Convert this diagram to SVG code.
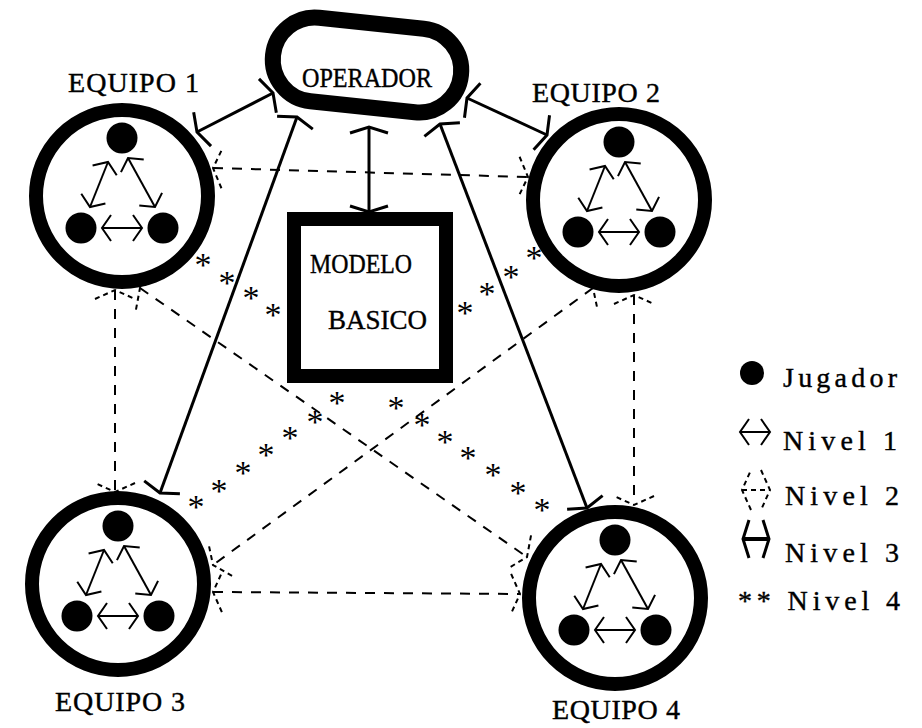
<svg xmlns="http://www.w3.org/2000/svg" xmlns:xlink="http://www.w3.org/1999/xlink" width="922" height="728" viewBox="0 0 922 728">
<style>
.t{font-family:"Liberation Serif","Times New Roman",serif;font-size:28px;fill:#000;stroke:#000;stroke-width:0.4}
.ast{font-family:"Liberation Serif","Times New Roman",serif;font-size:34px;fill:#000;text-anchor:middle}
.ring{fill:#fff;stroke:#000;stroke-width:14}
.dot{fill:#000}
.n1{fill:none;stroke:#000;stroke-width:2;marker-start:url(#h1);marker-end:url(#h1)}
.n2{fill:none;stroke:#000;stroke-width:2;stroke-dasharray:10 9;marker-start:url(#h2);marker-end:url(#h2)}
.n3{fill:none;stroke:#000;stroke-width:3;marker-start:url(#h3);marker-end:url(#h3)}
</style>
<defs>
<marker id="h1" viewBox="-30 -30 60 60" markerWidth="60" markerHeight="60" refX="0" refY="0" markerUnits="userSpaceOnUse" orient="auto-start-reverse" overflow="visible">
<path d="M-9,-13 L0,0 L-9,13" fill="none" stroke="#000" stroke-width="2"/>
</marker>
<marker id="h2" viewBox="-30 -30 60 60" markerWidth="60" markerHeight="60" refX="0" refY="0" markerUnits="userSpaceOnUse" orient="auto-start-reverse" overflow="visible">
<path d="M-9,-20 L0,0 L-9,20" fill="none" stroke="#000" stroke-width="2" stroke-dasharray="5 4"/>
</marker>
<marker id="h3" viewBox="-30 -30 60 60" markerWidth="60" markerHeight="60" refX="0" refY="0" markerUnits="userSpaceOnUse" orient="auto-start-reverse" overflow="visible">
<path d="M-6,-19 L0,0 L-6,19" fill="none" stroke="#000" stroke-width="3"/>
</marker>
<g id="inner">
<circle class="dot" cx="0" cy="-58" r="15.5"/>
<circle class="dot" cx="-41" cy="32" r="15.5"/>
<circle class="dot" cx="41" cy="32" r="15.5"/>
<line class="n1" x1="-32" y1="11" x2="-14" y2="-34"/>
<line class="n1" x1="6" y1="-38" x2="33" y2="11"/>
<line class="n1" x1="-20" y1="32" x2="20" y2="32"/>
</g>
</defs>
<rect width="922" height="728" fill="#fff"/>

<g id="connectors">
<line class="n3" x1="273" y1="93" x2="197" y2="132"/>
<line class="n3" x1="297" y1="117" x2="160" y2="493"/>
<line class="n3" x1="369" y1="127" x2="369" y2="212"/>
<line class="n3" x1="440" y1="124" x2="587" y2="508"/>
<line class="n3" x1="467" y1="98" x2="547" y2="135"/>
<line class="n2" x1="213" y1="168" x2="528" y2="177"/>
<line class="n2" x1="115" y1="290" x2="115" y2="492"/>
<line class="n2" x1="140" y1="288" x2="527" y2="557"/>
<line class="n2" x1="593" y1="288" x2="213" y2="565"/>
<line class="n2" x1="634" y1="295" x2="634" y2="505"/>
<line class="n2" x1="213" y1="592" x2="520" y2="594"/>
<g id="nivel4">
<text class="ast" x="203" y="276">*</text>
<text class="ast" x="227" y="294">*</text>
<text class="ast" x="251" y="309">*</text>
<text class="ast" x="273" y="326">*</text>
<text class="ast" x="465" y="324">*</text>
<text class="ast" x="487" y="305">*</text>
<text class="ast" x="511" y="288">*</text>
<text class="ast" x="534" y="269">*</text>
<text class="ast" x="337" y="414">*</text>
<text class="ast" x="315" y="433">*</text>
<text class="ast" x="290" y="449">*</text>
<text class="ast" x="266" y="466">*</text>
<text class="ast" x="243" y="484">*</text>
<text class="ast" x="219" y="502">*</text>
<text class="ast" x="196" y="518">*</text>
<text class="ast" x="396" y="419">*</text>
<text class="ast" x="422" y="436">*</text>
<text class="ast" x="445" y="453">*</text>
<text class="ast" x="468" y="469">*</text>
<text class="ast" x="493" y="486">*</text>
<text class="ast" x="518" y="504">*</text>
<text class="ast" x="542" y="521">*</text>
</g>
</g>

<g id="operador">
<rect x="272.5" y="23" width="189" height="84" rx="42" ry="42" fill="#fff" stroke="#000" stroke-width="16" transform="rotate(6 367 65)"/>
<text class="t" x="302" y="87" textLength="130" lengthAdjust="spacingAndGlyphs">OPERADOR</text>
</g>

<g id="modelo">
<rect x="294" y="219" width="152" height="157" fill="#fff" stroke="#000" stroke-width="14"/>
<text class="t" x="310" y="273" textLength="102" lengthAdjust="spacingAndGlyphs">MODELO</text>
<text class="t" x="328" y="329" textLength="99" lengthAdjust="spacingAndGlyphs">BASICO</text>
</g>

<g id="equipo1">
<circle class="ring" cx="122" cy="196" r="86"/>
<use xlink:href="#inner" href="#inner" transform="translate(122 196)"/>
<text class="t" x="68" y="92" textLength="131" lengthAdjust="spacing">EQUIPO 1</text>
</g>
<g id="equipo2">
<circle class="ring" cx="619" cy="200" r="86"/>
<use xlink:href="#inner" href="#inner" transform="translate(619 200)"/>
<text class="t" x="532" y="102" textLength="128" lengthAdjust="spacing">EQUIPO 2</text>
</g>
<g id="equipo3">
<circle class="ring" cx="118" cy="584" r="86"/>
<use xlink:href="#inner" href="#inner" transform="translate(118 584)"/>
<text class="t" x="55" y="711" textLength="130" lengthAdjust="spacing">EQUIPO 3</text>
</g>
<g id="equipo4">
<circle class="ring" cx="615" cy="598" r="86"/>
<use xlink:href="#inner" href="#inner" transform="translate(615 598)"/>
<text class="t" x="552" y="719" textLength="128" lengthAdjust="spacing">EQUIPO 4</text>
</g>

<g id="legend">
<circle class="dot" cx="752" cy="373" r="12"/>
<text class="t" x="783" y="387" textLength="114" lengthAdjust="spacing">Jugador</text>
<line class="n1" x1="740" y1="432" x2="770" y2="432"/>
<text class="t" x="783" y="450" textLength="114" lengthAdjust="spacing">Nivel 1</text>
<line x1="742" y1="490" x2="770" y2="490" fill="none" stroke="#000" stroke-width="2" stroke-dasharray="5 4" marker-start="url(#h2)" marker-end="url(#h2)"/>
<text class="t" x="785" y="505" textLength="114" lengthAdjust="spacing">Nivel 2</text>
<line class="n3" x1="743" y1="539" x2="769" y2="539" style="stroke-width:4"/>
<text class="t" x="785" y="562" textLength="114" lengthAdjust="spacing">Nivel 3</text>
<text class="t" x="738" y="610" textLength="162" lengthAdjust="spacing">** Nivel 4</text>
</g>
</svg>
